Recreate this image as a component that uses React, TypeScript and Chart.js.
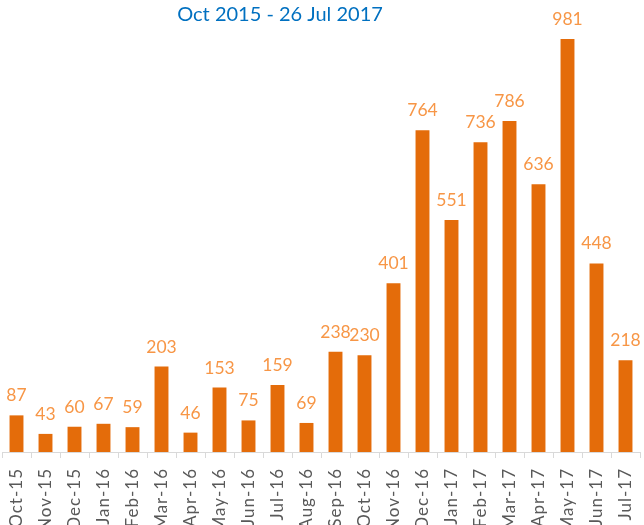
import React, { useEffect, useRef } from "react";
import { Chart, registerables } from "chart.js";

Chart.register(...registerables);

const TITLE = "Oct 2015 - 26 Jul 2017";
const CATEGORIES = [
  "Oct-15", "Nov-15", "Dec-15", "Jan-16", "Feb-16", "Mar-16", "Apr-16", "May-16",
  "Jun-16", "Jul-16", "Aug-16", "Sep-16", "Oct-16", "Nov-16", "Dec-16", "Jan-17",
  "Feb-17", "Mar-17", "Apr-17", "May-17", "Jun-17", "Jul-17",
];
const VALUES = [87, 43, 60, 67, 59, 203, 46, 153, 75, 159, 69, 238, 230, 401, 764, 551, 736, 786, 636, 981, 448, 218];

const BAR_COLOR = "#E46C0A";
const LABEL_COLOR = "#F79646";
const TITLE_COLOR = "#0070C0";
const AXIS_TEXT = "#595959";
const FONT = "Lato, 'Open Sans', sans-serif";

const spacingPlugin = {
  id: "spacing",
  beforeDraw(chart: any) {
    (chart.ctx as any).letterSpacing = "1px";
  },
};

const overlayPlugin = {
  id: "overlay",
  afterDatasetsDraw(chart: any) {
    const ctx = chart.ctx;
    const meta = chart.getDatasetMeta(0);
    ctx.save();
    (ctx as any).letterSpacing = "0px";
    ctx.font = `17.5px ${FONT}`;
    ctx.fillStyle = LABEL_COLOR;
    ctx.textAlign = "center";
    ctx.textBaseline = "alphabetic";
    meta.data.forEach((bar: any, i: number) => {
      ctx.fillText(String(VALUES[i]), bar.x, bar.y - 14);
    });
    ctx.font = `20px ${FONT}`;
    ctx.fillStyle = TITLE_COLOR;
    ctx.fillText(TITLE, 280, 21);
    ctx.restore();
  },
};

export default function App() {
  const ref = useRef<HTMLCanvasElement | null>(null);
  useEffect(() => {
    if (!ref.current) return;
    const chart = new Chart(ref.current, {
      type: "bar",
      data: {
        labels: CATEGORIES,
        datasets: [
          {
            data: VALUES,
            backgroundColor: BAR_COLOR,
            borderWidth: 0,
            categoryPercentage: 1,
            barPercentage: 0.48,
          },
        ],
      },
      options: {
        animation: false,
        responsive: false,
        maintainAspectRatio: false,
        layout: { padding: { left: 2, right: 4, top: 31, bottom: 0 } },
        plugins: {
          legend: { display: false },
          title: { display: false },
          tooltip: { enabled: false },
        },
        scales: {
          y: { display: false, min: 0, max: 1000 },
          x: {
            afterFit(scale: any) {
              scale.height = 88;
              scale.paddingLeft = 0;
              scale.paddingRight = 0;
            },
            border: { display: true, color: "#D9D9D9", width: 1 },
            grid: {
              display: true,
              drawOnChartArea: false,
              drawTicks: true,
              tickLength: 6,
              color: "#D9D9D9",
              offset: true,
            },
            ticks: {
              minRotation: 90,
              maxRotation: 90,
              autoSkip: false,
              padding: 10,
              color: AXIS_TEXT,
              font: { family: FONT, size: 17 },
            },
          },
        },
      },
      plugins: [spacingPlugin, overlayPlugin],
    });
    return () => chart.destroy();
  }, []);
  return (
    <div style={{ position: "fixed", left: 0, top: 0, width: 644, height: 525, overflow: "hidden", background: "#fff" }}>
      <canvas ref={ref} width={644} height={540} style={{ display: "block", width: 644, height: 540 }} />
    </div>
  );
}
